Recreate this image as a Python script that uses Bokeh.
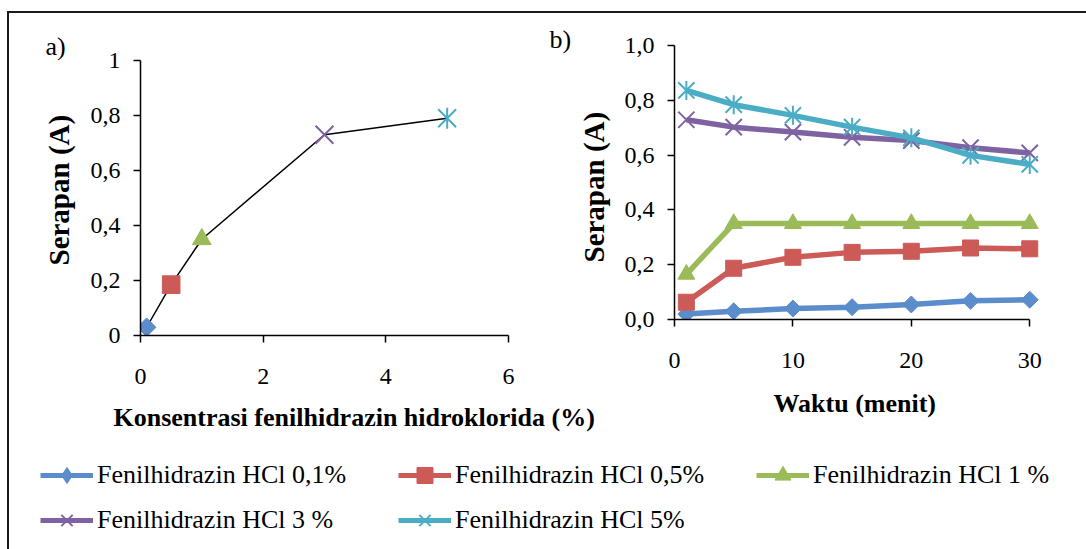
import math
from bokeh.plotting import figure
from bokeh.models import (Range1d, FixedTicker, Title, Legend, LegendItem)
from bokeh.layouts import column, row
from bokeh.embed import file_html
from bokeh.resources import INLINE

# ---------------- data ----------------
series_names = ["Fenilhidrazin HCl 0,1%", "Fenilhidrazin HCl 0,5%",
                "Fenilhidrazin HCl 1 %", "Fenilhidrazin HCl 3 %",
                "Fenilhidrazin HCl 5%"]
colors = ["#5B8CCB", "#CC5B58", "#9BBB59", "#7F62A1", "#4BACC6"]

# panel a: absorbance vs concentration
konsentrasi = [0.1, 0.5, 1, 3, 5]
serapan_a = [0.03, 0.185, 0.35, 0.73, 0.79]

# panel b: absorbance vs time
waktu = [1, 5, 10, 15, 20, 25, 30]
serapan_01 = [0.02, 0.03, 0.04, 0.045, 0.055, 0.068, 0.072]
serapan_05 = [0.063, 0.187, 0.227, 0.245, 0.249, 0.261, 0.258]
serapan_1 = [0.165, 0.35, 0.35, 0.35, 0.35, 0.35, 0.35]
serapan_3 = [0.729, 0.702, 0.684, 0.665, 0.653, 0.627, 0.608]
serapan_5 = [0.836, 0.784, 0.745, 0.702, 0.663, 0.599, 0.566]
series_b = [serapan_01, serapan_05, serapan_1, serapan_3, serapan_5]

ticks_a_x = [0, 2, 4, 6]
ticks_a_y = [0, 0.2, 0.4, 0.6, 0.8, 1]
labels_a_y = ["0", "0,2", "0,4", "0,6", "0,8", "1"]
ticks_b_x = [0, 10, 20, 30]
ticks_b_y = [0, 0.2, 0.4, 0.6, 0.8, 1]
labels_b_y = ["0,0", "0,2", "0,4", "0,6", "0,8", "1,0"]

SERIF = "Liberation Serif"
BORDER = "#1a1a1a"
LINE_IMG = f"linear-gradient({BORDER}, {BORDER})"


def border_style(top=None, left=None):
    imgs, sizes, poss = [], [], []
    if top is not None:
        imgs.append(LINE_IMG); sizes.append("100% 2px"); poss.append(top)
    if left is not None:
        imgs.append(LINE_IMG); sizes.append("2px 100%"); poss.append(left)
    return {"background-image": ", ".join(imgs),
            "background-size": ", ".join(sizes),
            "background-position": ", ".join(poss),
            "background-repeat": "no-repeat"}


def style(p):
    p.grid.visible = False
    p.outline_line_color = None
    p.background_fill_color = None
    p.border_fill_color = None
    if hasattr(p, "frame_align"):
        p.frame_align = False
    for ax in (p.xaxis[0], p.yaxis[0]):
        ax.axis_line_color = "black"
        ax.axis_line_width = 1.5
        ax.major_tick_line_color = "black"
        ax.major_tick_line_width = 1.5
        ax.major_tick_out = 7
        ax.major_tick_in = 0
        ax.minor_tick_line_color = None
        ax.major_label_text_font = SERIF
        ax.major_label_text_font_size = "24px"
        ax.major_label_text_color = "black"
    p.yaxis[0].major_label_standoff = 13
    p.xaxis[0].major_label_standoff = 26


def add_marker(p, i, xs, ys, size_scale=1.0, legend=False):
    c = colors[i]
    rs = []
    if i == 0:
        if legend:
            rs.append(p.scatter(xs, ys, marker="diamond", size=16,
                                fill_color=c, line_color=c))
        else:
            rs.append(p.scatter(xs, ys, marker="square", angle=math.pi / 4,
                                size=12 * size_scale, fill_color=c, line_color=c))
    elif i == 1:
        rs.append(p.scatter(xs, ys, marker="square", size=16 * size_scale,
                            fill_color=c, line_color=c))
    elif i == 2:
        rs.append(p.scatter(xs, ys, marker="triangle", size=17 * size_scale,
                            fill_color=c, line_color=c))
    elif i == 3:
        rs.append(p.scatter(xs, ys, marker="x", size=23 * size_scale,
                            line_color=c, line_width=2))
    else:
        rs.append(p.scatter(xs, ys, marker="x", size=23 * size_scale,
                            line_color=c, line_width=2))
        rs.append(p.scatter(xs, ys, marker="dash", angle=math.pi / 2,
                            size=19 * size_scale, line_color=c, line_width=2))
    return rs


def title(p, text, side, align="left", offset=0, standoff=10, bold=True,
          size="26px"):
    p.add_layout(Title(text=text, align=align, offset=offset,
                       standoff=standoff, text_font=SERIF,
                       text_font_size=size,
                       text_font_style="bold" if bold else "normal",
                       text_color="black"), side)


# ---------------- panel a ----------------
pa = figure(width=600, height=470, title=None,
            x_range=Range1d(0, 6), y_range=Range1d(0, 1),
            output_backend="svg", toolbar_location=None,
            min_border_left=140, min_border_right=92,
            min_border_top=60, min_border_bottom=135,
            styles=border_style(top="7px 11px", left="7px 11px"))
style(pa)
pa.xaxis[0].ticker = FixedTicker(ticks=ticks_a_x)
pa.yaxis[0].ticker = FixedTicker(ticks=ticks_a_y)
pa.yaxis[0].major_label_overrides = dict(zip(ticks_a_y, labels_a_y))
pa.line(konsentrasi, serapan_a, line_color="black", line_width=1.5)
for i in range(len(konsentrasi)):
    add_marker(pa, i, [konsentrasi[i]], [serapan_a[i]], 1.1)

title(pa, "a)", "above", offset=-95, standoff=0, bold=False)
title(pa, "Konsentrasi fenilhidrazin hidroklorida (%)", "below",
      offset=-27, standoff=29)
title(pa, "Serapan (A)", "left", offset=70, standoff=26, size="29px")

# ---------------- panel b ----------------
pb = figure(width=546, height=440, title=None,
            x_range=Range1d(0, 31.5), y_range=Range1d(0, 1),
            output_backend="svg", toolbar_location=None,
            min_border_left=134, min_border_right=39,
            min_border_top=45, min_border_bottom=121,
            margin=(0, 0, 0, -60),
            styles=border_style(top="0 11px"))
style(pb)
pb.xaxis[0].ticker = FixedTicker(ticks=ticks_b_x)
pb.xaxis[0].bounds = (0, 30)
pb.yaxis[0].ticker = FixedTicker(ticks=ticks_b_y)
pb.yaxis[0].major_label_overrides = dict(zip(ticks_b_y, labels_b_y))
for i, ys in enumerate(series_b):
    pb.line(waktu, ys, line_color=colors[i], line_width=5.5)
    add_marker(pb, i, waktu, ys)

title(pb, "b)", "above", offset=-125, standoff=-17, bold=False)
title(pb, "Waktu (menit)", "below", offset=99, standoff=33)
title(pb, "Serapan (A)", "left", offset=57, standoff=24, size="29px")

# ---------------- legend ----------------
pl = figure(width=1086, height=109, title=None,
            x_range=Range1d(0, 1), y_range=Range1d(0, 1),
            output_backend="svg", toolbar_location=None,
            min_border=0, margin=(-30, 0, 0, 0),
            styles=border_style(left="7px 0"))
pl.axis.visible = False
pl.grid.visible = False
pl.outline_line_color = None
pl.background_fill_color = None
pl.border_fill_color = None
items = []
for i, name in enumerate(series_names):
    # renderers outside the visible range: only their legend glyphs show
    lr = pl.line([-5, -4], [-5, -4], line_color=colors[i], line_width=5)
    mrs = add_marker(pl, i, [-5], [-5], legend=True)
    items.append(LegendItem(label=name, renderers=[lr] + mrs))
leg = Legend(items=items, ncols=3, orientation="horizontal", location=(40, 9),
             glyph_width=53, glyph_height=40, label_height=40,
             label_width=296, label_standoff=4, spacing=5,
             padding=0, margin=0, border_line_color=None,
             background_fill_alpha=0,
             label_text_font=SERIF, label_text_font_size="26px",
             label_text_color="black")
pl.add_layout(leg, "center")

layout = column(row(pa, pb), pl)

open("out.html", "w").write(file_html(layout, INLINE))
